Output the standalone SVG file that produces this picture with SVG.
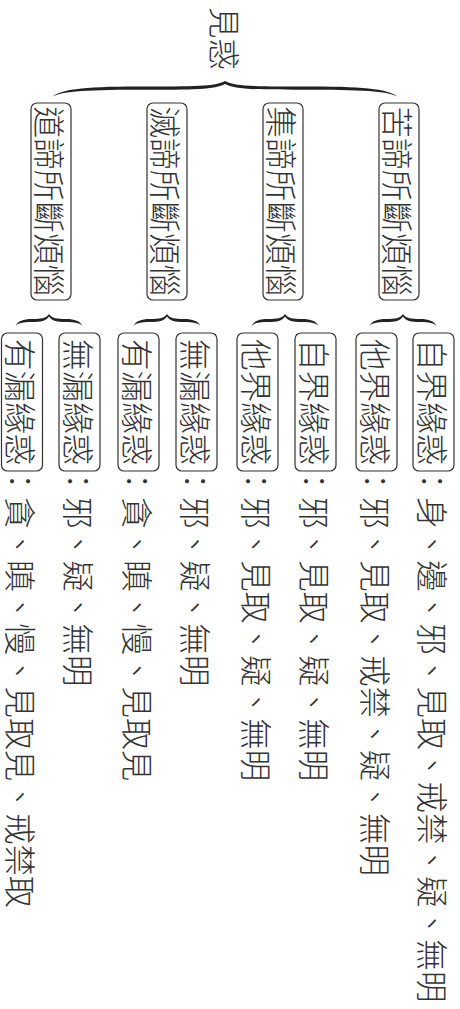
<svg xmlns="http://www.w3.org/2000/svg" width="460" height="1009" viewBox="0 0 460 1009">
<style>
.t{font-family:"Noto Sans CJK TC Light","Noto Sans CJK TC DemiLight","Noto Sans CJK TC","Noto Sans CJK SC",sans-serif;font-size:31.6px;fill:#333;dominant-baseline:central;font-weight:300}
.box{fill:none;stroke:#333;stroke-width:1.2}
.brace{fill:#222;stroke:none}
</style>
<defs>
<path id="sb" d="M-33.5,12 C-31,7 -26,5 -17,5 C-8,5 -3,4.5 0,0 C3,4.5 8,5 17,5 C26,5 31,7 33.5,12 C31,9 26,8 17,8 C8,8 3,7.2 0,2.5 C-3,7.2 -8,8 -17,8 C-26,8 -31,9 -33.5,12 Z"/>
</defs>
<rect width="460" height="1009" fill="#fff"/>
<g id="root">
<text class="t" x="7" y="-226" transform="rotate(90)">見惑</text>
</g>
<g id="connectors">
<path class="brace" d="M52,97 C60,90 80,86.5 138,86.5 C195,86.5 215,86.5 225,81 C235,86.5 255,86.5 312,86.5 C370,86.5 390,90 398,97 C390,92 370,89.8 312,89.8 C255,89.8 235,89.5 225,84 C215,89.5 195,89.8 138,89.8 C80,89.8 60,92 52,97 Z"/>
<use href="#sb" class="brace" x="49" y="314"/>
<use href="#sb" class="brace" x="167" y="314"/>
<use href="#sb" class="brace" x="285" y="314"/>
<use href="#sb" class="brace" x="403" y="314"/>
</g>
<g id="n-dao">
<rect class="box" x="31" y="103" width="40" height="197" rx="6"/>
<text class="t" x="106.5" y="-51" transform="rotate(90)">道諦所斷煩惱</text>
</g>
<g id="n-mie">
<rect class="box" x="147" y="103" width="40" height="197" rx="6"/>
<text class="t" x="106.5" y="-167" transform="rotate(90)">滅諦所斷煩惱</text>
</g>
<g id="n-ji">
<rect class="box" x="263" y="103" width="40" height="197" rx="6"/>
<text class="t" x="106.5" y="-283" transform="rotate(90)">集諦所斷煩惱</text>
</g>
<g id="n-ku">
<rect class="box" x="379" y="103" width="40" height="197" rx="6"/>
<text class="t" x="106.5" y="-399" transform="rotate(90)">苦諦所斷煩惱</text>
</g>
<g id="n-a">
<rect class="box" x="1.5" y="333" width="41" height="138" rx="6"/>
<text class="t" x="339" y="-22" transform="rotate(90)">有漏緣惑：貪、瞋、慢、見取見、戒禁取</text>
</g>
<g id="n-b">
<rect class="box" x="59" y="333" width="41" height="138" rx="6"/>
<text class="t" x="339" y="-79.5" transform="rotate(90)">無漏緣惑：邪、疑、無明</text>
</g>
<g id="n-c">
<rect class="box" x="118" y="333" width="41" height="138" rx="6"/>
<text class="t" x="339" y="-138.5" transform="rotate(90)">有漏緣惑：貪、瞋、慢、見取見</text>
</g>
<g id="n-d">
<rect class="box" x="176" y="333" width="41" height="138" rx="6"/>
<text class="t" x="339" y="-196.5" transform="rotate(90)">無漏緣惑：邪、疑、無明</text>
</g>
<g id="n-e">
<rect class="box" x="237" y="333" width="41" height="138" rx="6"/>
<text class="t" x="339" y="-257.5" transform="rotate(90)">他界緣惑：邪、見取、疑、無明</text>
</g>
<g id="n-f">
<rect class="box" x="295" y="333" width="41" height="138" rx="6"/>
<text class="t" x="339" y="-315.5" transform="rotate(90)">自界緣惑：邪、見取、疑、無明</text>
</g>
<g id="n-g">
<rect class="box" x="356" y="333" width="41" height="138" rx="6"/>
<text class="t" x="339" y="-376.5" transform="rotate(90)">他界緣惑：邪、見取、戒禁、疑、無明</text>
</g>
<g id="n-h">
<rect class="box" x="413" y="333" width="41" height="138" rx="6"/>
<text class="t" x="339" y="-433.5" transform="rotate(90)">自界緣惑：身、邊、邪、見取、戒禁、疑、無明</text>
</g>
</svg>
